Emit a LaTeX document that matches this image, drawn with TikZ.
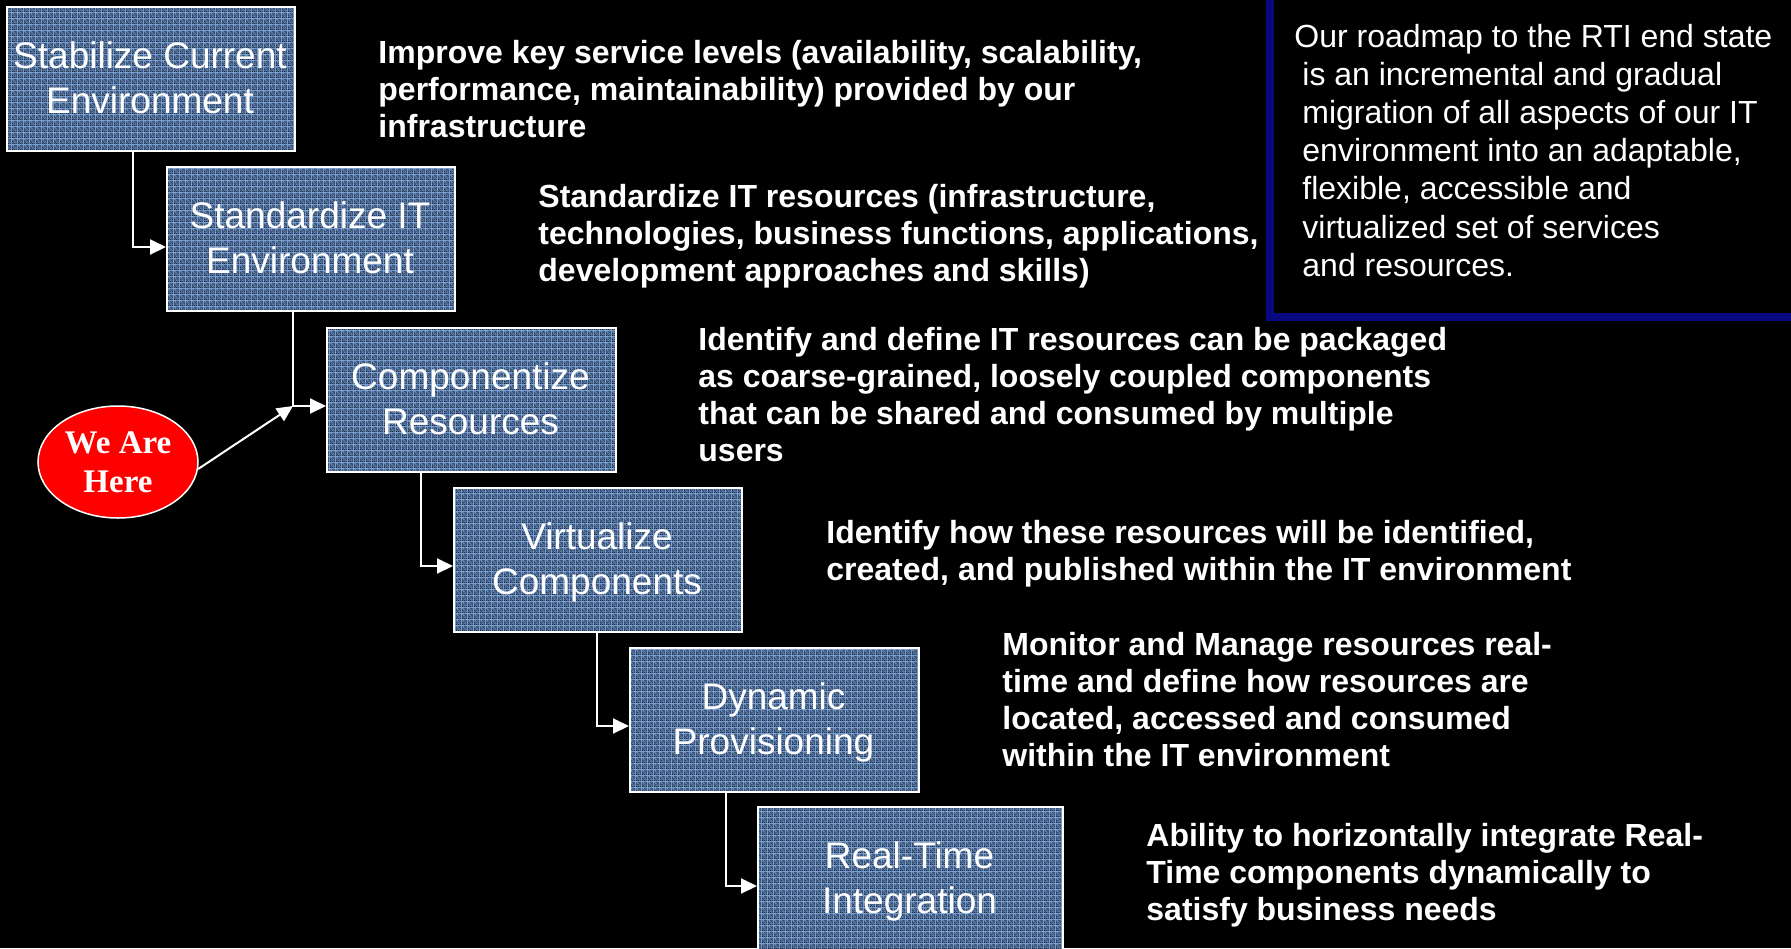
\documentclass[tikz,border=0pt]{standalone}
\usepackage{fontspec}
\setmainfont{Liberation Sans}
\newfontfamily\timesfont{Liberation Serif}
\usetikzlibrary{arrows.meta,patterns,calc,shapes.geometric}

\pgfdeclarepatternformonly{noisy}{\pgfpointorigin}{\pgfqpoint{3pt}{3pt}}{\pgfqpoint{3pt}{3pt}}{%
  \pgfpathrectangle{\pgfqpoint{0pt}{0pt}}{\pgfqpoint{0.5pt}{0.5pt}}%
  \pgfpathrectangle{\pgfqpoint{1pt}{0pt}}{\pgfqpoint{0.5pt}{0.5pt}}%
  \pgfpathrectangle{\pgfqpoint{1.5pt}{0pt}}{\pgfqpoint{0.5pt}{0.5pt}}%
  \pgfpathrectangle{\pgfqpoint{2.5pt}{0pt}}{\pgfqpoint{0.5pt}{0.5pt}}%
  \pgfpathrectangle{\pgfqpoint{0.5pt}{0.5pt}}{\pgfqpoint{0.5pt}{0.5pt}}%
  \pgfpathrectangle{\pgfqpoint{2pt}{0.5pt}}{\pgfqpoint{0.5pt}{0.5pt}}%
  \pgfpathrectangle{\pgfqpoint{0pt}{1pt}}{\pgfqpoint{0.5pt}{0.5pt}}%
  \pgfpathrectangle{\pgfqpoint{1pt}{1pt}}{\pgfqpoint{0.5pt}{0.5pt}}%
  \pgfpathrectangle{\pgfqpoint{2.5pt}{1pt}}{\pgfqpoint{0.5pt}{0.5pt}}%
  \pgfpathrectangle{\pgfqpoint{0.5pt}{1.5pt}}{\pgfqpoint{0.5pt}{0.5pt}}%
  \pgfpathrectangle{\pgfqpoint{1.5pt}{1.5pt}}{\pgfqpoint{0.5pt}{0.5pt}}%
  \pgfpathrectangle{\pgfqpoint{2pt}{1.5pt}}{\pgfqpoint{0.5pt}{0.5pt}}%
  \pgfpathrectangle{\pgfqpoint{0pt}{2pt}}{\pgfqpoint{0.5pt}{0.5pt}}%
  \pgfpathrectangle{\pgfqpoint{1.5pt}{2pt}}{\pgfqpoint{0.5pt}{0.5pt}}%
  \pgfpathrectangle{\pgfqpoint{2.5pt}{2pt}}{\pgfqpoint{0.5pt}{0.5pt}}%
  \pgfpathrectangle{\pgfqpoint{1pt}{2.5pt}}{\pgfqpoint{0.5pt}{0.5pt}}%
  \pgfpathrectangle{\pgfqpoint{2pt}{2.5pt}}{\pgfqpoint{0.5pt}{0.5pt}}%
  \pgfusepath{fill}}

\definecolor{boxlight}{RGB}{124,164,214}
\definecolor{boxdark}{RGB}{28,42,68}
\definecolor{navyframe}{RGB}{8,8,128}

\begin{document}
\begin{tikzpicture}[x=0.5pt,y=-0.5pt,
  stagebox/.style={rectangle, draw=white, line width=1pt,
    preaction={fill=boxlight}, pattern=noisy, pattern color=boxdark,
    minimum width=144pt, minimum height=72pt, anchor=north west, inner sep=0pt},
  boxtext/.style={text=white, font=\fontsize{18.5pt}{22.5pt}\selectfont,
    align=center, anchor=base, inner sep=0pt},
  desc/.style={text=white, font=\bfseries\fontsize{16pt}{18.65pt}\selectfont,
    align=left, anchor=base west, inner sep=0pt},
  conn/.style={draw=white, line width=1pt, -{Triangle[length=8pt,width=7.5pt]}}]

\useasboundingbox (0,0) rectangle (1791,948);
\fill[black] (0,0) rectangle (1791,948);

% top-right framed note (anchor = baseline of last line)
\draw[navyframe, line width=4pt] (1270,-20) rectangle (1810,317);
\node[text=white, font=\fontsize{16pt}{19.1pt}\selectfont, align=left,
  anchor=base west, inner sep=0pt] (note) at (1294,276.2)
  {Our roadmap to the RTI end state\\
   \hspace*{4pt}is an incremental and gradual\\
   \hspace*{4pt}migration of all aspects of our IT\\
   \hspace*{4pt}environment into an adaptable,\\
   \hspace*{4pt}flexible, accessible and\\
   \hspace*{4pt}virtualized set of services\\
   \hspace*{4pt}and resources.};

% stage boxes
\node[stagebox] (b1) at (6,6) {};
\node[stagebox] (b2) at (166,166) {};
\node[stagebox, minimum width=144.5pt] (b3) at (326,327) {};
\node[stagebox] (b4) at (453,487) {};
\node[stagebox, minimum width=144.5pt] (b5) at (629,647) {};
\node[stagebox, minimum width=152.5pt] (b6) at (757,806) {};

\node[boxtext] (t1) at (150,113) {Stabilize Current\\Environment};
\node[boxtext] (t2) at (310,273) {Standardize IT\\Environment};
\node[boxtext] (t3) at (470.5,434) {Componentize\\Resources};
\node[boxtext] (t4) at (597,594) {Virtualize\\Components};
\node[boxtext] (t5) at (773.5,754) {Dynamic\\Provisioning};
\node[boxtext] (t6) at (909.5,913) {Real-Time\\Integration};

% connectors
\coordinate (c1s) at ($(b1.south west)+(127,0)$);
\coordinate (c1e) at ($(b2.north west)+(0,81)$);
\coordinate (c2s) at ($(b2.south west)+(127,0)$);
\coordinate (c2e) at ($(b3.north west)+(0,79)$);
\coordinate (j2) at (c2s |- c2e);
\coordinate (c3s) at ($(b3.south west)+(95,0)$);
\coordinate (c3e) at ($(b4.north west)+(0,79)$);
\coordinate (c4s) at ($(b4.south west)+(144,0)$);
\coordinate (c4e) at ($(b5.north west)+(0,79)$);
\coordinate (c5s) at ($(b5.south west)+(97,0)$);
\coordinate (c5e) at ($(b6.north west)+(0,80)$);

\draw[conn] (c1s) |- (c1e);
\draw[conn] (c2s) |- (c2e);
\draw[conn] (c3s) |- (c3e);
\draw[conn] (c4s) |- (c4e);
\draw[conn] (c5s) |- (c5e);

% We Are Here
\node[ellipse, draw=white, line width=0.75pt, fill=red, minimum width=80pt,
  minimum height=56pt, inner sep=0pt] (we) at (118,462) {};
\node[text=white, font=\timesfont\bfseries\fontsize{16.5pt}{19.5pt}\selectfont,
  align=center, anchor=base, inner sep=0pt] (wet) at (118,492) {We Are\\Here};
\draw[conn] (we.-5) -- (j2);

% descriptions (anchor = baseline of last line)
\node[desc] (d1) at (378,137.6) {Improve key service levels (availability, scalability,\\performance, maintainability) provided by our\\infrastructure};
\node[desc] (d2) at (538,281.6) {Standardize IT resources (infrastructure,\\technologies, business functions, applications,\\development approaches and skills)};
\node[desc] (d3) at (698,461.9) {Identify and define IT resources can be packaged\\as coarse-grained, loosely coupled components\\that can be shared and consumed by multiple\\users};
\node[desc] (d4) at (826,580.3) {Identify how these resources will be identified,\\created, and published within the IT environment};
\node[desc] (d5) at (1002,766.9) {Monitor and Manage resources real-\\time and define how resources are\\located, accessed and consumed\\within the IT environment};
\node[desc] (d6) at (1146,920.6) {Ability to horizontally integrate Real-\\Time components dynamically to\\satisfy business needs};
\end{tikzpicture}
\end{document}
